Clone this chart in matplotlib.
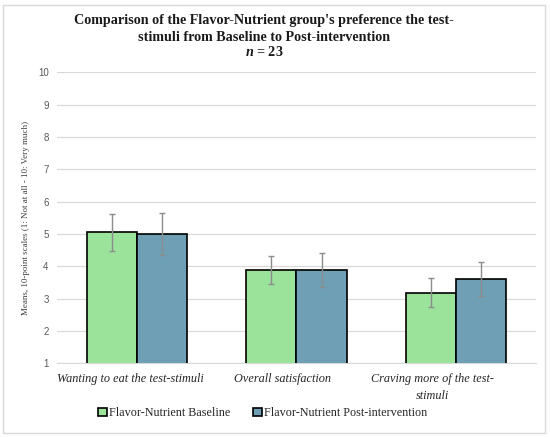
import numpy as np
import matplotlib
matplotlib.use('Agg')
import matplotlib.pyplot as plt
from matplotlib.patches import Rectangle

categories = ['Wanting to eat the test-stimuli', 'Overall satisfaction',
              'Craving more of the test-\nstimuli']
baseline = [5.05, 3.88, 3.19]
baseline_err = [0.58, 0.44, 0.46]
post = [5.00, 3.88, 3.61]
post_err = [0.65, 0.52, 0.52]
series_names = ['Flavor-Nutrient Baseline', 'Flavor-Nutrient Post-intervention']
yticks = list(range(1, 11))

green = '#9be39a'
blue = '#6f9fb4'
serif = 'Liberation Serif'
sans = 'Liberation Sans'

plt.rcParams['mathtext.fontset'] = 'custom'
plt.rcParams['mathtext.it'] = 'Liberation Serif:italic:bold'
plt.rcParams['mathtext.rm'] = 'Liberation Serif:bold'

fig = plt.figure(figsize=(5.5, 4.37), dpi=100)
ax = fig.add_axes([0.1036, 0.1686, 0.8709, 0.666])

x = np.arange(len(categories))
w = 0.3137
ekw = dict(ecolor='#8c8c8c', elinewidth=1, capsize=2.5, capthick=1)
ax.bar(x - w / 2, baseline, w, bottom=0, color=green, edgecolor='black',
       linewidth=1.2, yerr=baseline_err, error_kw=ekw, label=series_names[0], zorder=3)
ax.bar(x + w / 2, post, w, bottom=0, color=blue, edgecolor='black',
       linewidth=1.2, yerr=post_err, error_kw=ekw, label=series_names[1], zorder=3)

ax.set_ylim(1, 10)
ax.set_xlim(-0.5, 2.5)
ax.set_yticks(yticks)
ax.set_yticklabels([str(t) for t in yticks], fontsize=7, color='#595959', family=sans)
ax.yaxis.grid(True, color='#d9d9d9', linewidth=0.9, zorder=0)
ax.set_axisbelow(True)
for s in ['top', 'right', 'left']:
    ax.spines[s].set_visible(False)
ax.spines['bottom'].set_color('#d9d9d9')
ax.tick_params(axis='y', length=0, pad=6)
ax.tick_params(axis='x', length=0, pad=7)

ax.set_xticks(x - np.array([0.04, 0.09, 0.15]))
ax.set_xticklabels(categories, fontsize=8.8, style='italic', family=serif,
                   color='#262626', linespacing=1.5, va='top')

ax.set_ylabel('Means, 10-point scales (1: Not at all - 10: Very much)',
              fontsize=6.5, family=serif, color='#404040', labelpad=5.5)

fig.text(0.48, 0.967, "Comparison of the Flavor-Nutrient group's preference the test-\n"
         "stimuli from Baseline to Post-intervention",
         ha='center', va='top', fontsize=10.2, fontweight='bold', family=serif,
         linespacing=1.4, color='#1a1a1a')
fig.text(0.48, 0.882, r'$\mathit{n}$ = 23', ha='center', va='center', fontsize=10.2,
         fontweight='bold', family=serif, color='#1a1a1a')

leg = fig.legend(loc='center', bbox_to_anchor=(0.478, 0.055), ncol=2, frameon=False,
                 prop={'family': serif, 'size': 8.7}, handlelength=0.7, handleheight=0.7,
                 handletextpad=0.2, columnspacing=1.9)
for t in leg.get_texts():
    t.set_color('#262626')

fig.patches.append(Rectangle((0.006, 0.01), 0.985, 0.978, transform=fig.transFigure,
                             fill=False, edgecolor='#d9d9d9', linewidth=1))

fig.savefig('out.png', dpi=100)
